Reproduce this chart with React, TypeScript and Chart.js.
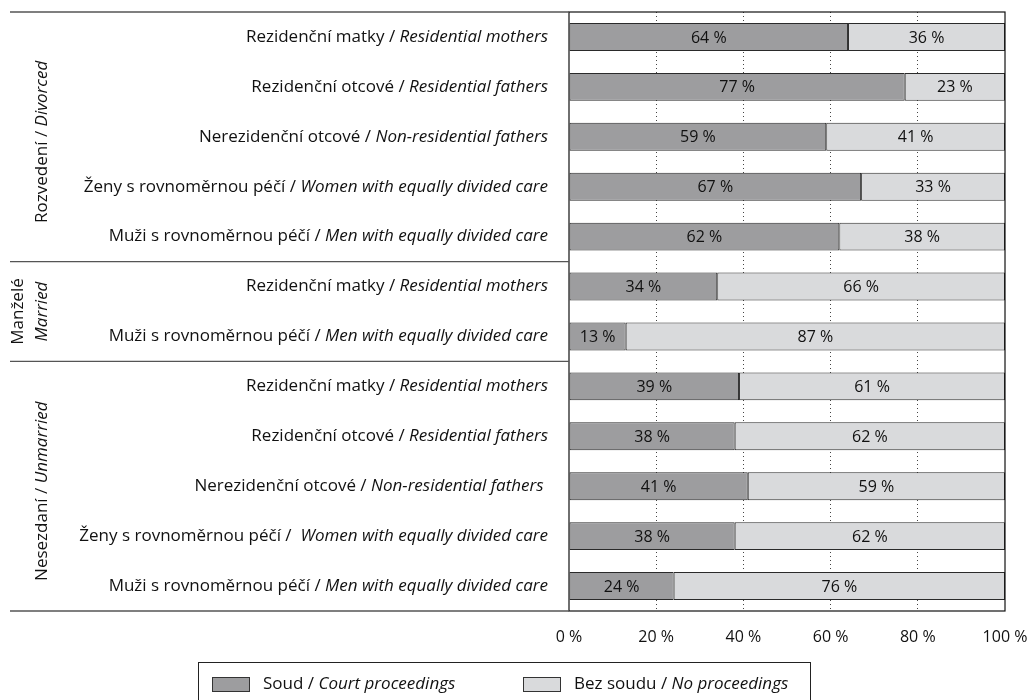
import React, { useEffect, useRef } from "react";
import { Chart, registerables } from "chart.js";

Chart.register(...registerables);

const categoriesCz = [
  "Rezidenční matky / ",
  "Rezidenční otcové / ",
  "Nerezidenční otcové / ",
  "Ženy s rovnoměrnou péčí / ",
  "Muži s rovnoměrnou péčí / ",
  "Rezidenční matky / ",
  "Muži s rovnoměrnou péčí / ",
  "Rezidenční matky / ",
  "Rezidenční otcové / ",
  "Nerezidenční otcové / ",
  "Ženy s rovnoměrnou péčí /  ",
  "Muži s rovnoměrnou péčí / ",
];
const categoriesEn = [
  "Residential mothers",
  "Residential fathers",
  "Non-residential fathers",
  "Women with equally divided care",
  "Men with equally divided care",
  "Residential mothers",
  "Men with equally divided care",
  "Residential mothers",
  "Residential fathers",
  "Non-residential fathers ",
  "Women with equally divided care",
  "Men with equally divided care",
];
const courtValues = [64, 77, 59, 67, 62, 34, 13, 39, 38, 41, 38, 24];
const noCourtValues = [36, 23, 41, 33, 38, 66, 87, 61, 62, 59, 62, 76];
const xTickValues = [0, 20, 40, 60, 80, 100];
const groupCz = ["Rozvedení / ", "Manželé", "Nesezdaní / "];
const groupEn = ["Divorced", "Married", "Unmarried"];
const groupSizes = [5, 2, 5];
const seriesCz = ["Soud / ", "Bez soudu / "];
const seriesEn = ["Court proceedings", "No proceedings"];

const FONT = "'Open Sans', 'Noto Sans', sans-serif";
const DARK = "#9d9d9f";
const LIGHT = "#d9dadc";
const TEXT = "#111";
const LABEL_SIZE = 17;
const VALUE_SIZE = 16;

function mixedWidth(ctx: CanvasRenderingContext2D, a: string, b: string, size: number) {
  ctx.font = `${size}px ${FONT}`;
  const wa = ctx.measureText(a).width;
  ctx.font = `italic ${size}px ${FONT}`;
  const wb = ctx.measureText(b).width;
  return [wa, wb];
}

function drawMixed(ctx: CanvasRenderingContext2D, a: string, b: string, x: number, y: number, size: number) {
  ctx.textAlign = "left";
  ctx.textBaseline = "middle";
  const [wa] = mixedWidth(ctx, a, b, size);
  ctx.font = `${size}px ${FONT}`;
  ctx.fillText(a, x, y);
  ctx.font = `italic ${size}px ${FONT}`;
  ctx.fillText(b, x + wa, y);
}

const customPlugin = {
  id: "customDraw",
  afterDatasetsDraw(chart: any) {
    const ctx = chart.ctx as CanvasRenderingContext2D;
    ctx.save();
    ctx.fillStyle = TEXT;
    ctx.font = `${VALUE_SIZE}px ${FONT}`;
    ctx.textAlign = "center";
    ctx.textBaseline = "middle";
    chart.data.datasets.forEach((ds: any, di: number) => {
      const meta = chart.getDatasetMeta(di);
      meta.data.forEach((el: any, i: number) => {
        const cx = (el.x + el.base) / 2;
        ctx.fillText(`${ds.data[i]} %`, cx, el.y + 1);
      });
    });
    ctx.restore();
  },
  afterDraw(chart: any) {
    const ctx = chart.ctx as CanvasRenderingContext2D;
    const area = chart.chartArea;
    const yScale = chart.scales.y;
    ctx.save();

    // plot border
    ctx.strokeStyle = "#111";
    ctx.lineWidth = 1.2;
    ctx.strokeRect(area.left, area.top, area.right - area.left, area.bottom - area.top);

    // category labels
    ctx.fillStyle = TEXT;
    const labelRight = area.left - 21;
    categoriesCz.forEach((cz, i) => {
      const y = yScale.getPixelForValue(i);
      const [wa, wb] = mixedWidth(ctx, cz, categoriesEn[i], LABEL_SIZE);
      drawMixed(ctx, cz, categoriesEn[i], labelRight - wa - wb, y, LABEL_SIZE);
    });

    // group separator lines
    ctx.strokeStyle = "#555";
    ctx.lineWidth = 1.3;
    const bounds: number[] = [area.top];
    let idx = 0;
    groupSizes.forEach((n) => {
      idx += n;
      if (idx >= categoriesCz.length) bounds.push(area.bottom);
      else bounds.push((yScale.getPixelForValue(idx - 1) + yScale.getPixelForValue(idx)) / 2);
    });
    bounds.forEach((b) => {
      ctx.beginPath();
      ctx.moveTo(10, b);
      ctx.lineTo(area.left, b);
      ctx.stroke();
    });

    // group labels (rotated)
    ctx.fillStyle = TEXT;
    groupCz.forEach((cz, g) => {
      const cy = (bounds[g] + bounds[g + 1]) / 2;
      ctx.save();
      if (g === 1) {
        ctx.translate(18, cy);
        ctx.rotate(-Math.PI / 2);
        ctx.font = `${LABEL_SIZE}px ${FONT}`;
        ctx.textAlign = "center";
        ctx.textBaseline = "middle";
        ctx.fillText(cz, 0, 0);
        ctx.restore();
        ctx.save();
        ctx.translate(42, cy);
        ctx.rotate(-Math.PI / 2);
        ctx.font = `italic ${LABEL_SIZE}px ${FONT}`;
        ctx.textAlign = "center";
        ctx.textBaseline = "middle";
        ctx.fillText(groupEn[g], 0, 0);
      } else {
        ctx.translate(42, cy + 5);
        ctx.rotate(-Math.PI / 2);
        const [wa, wb] = mixedWidth(ctx, cz, groupEn[g], LABEL_SIZE);
        drawMixed(ctx, cz, groupEn[g], -(wa + wb) / 2, 0, LABEL_SIZE);
      }
      ctx.restore();
    });

    // legend
    const lx = 198, ly = 662, lw = 612, lh = 44;
    ctx.strokeStyle = "#222";
    ctx.lineWidth = 1;
    ctx.strokeRect(lx + 0.5, ly + 0.5, lw, lh);
    const legendY = 684;
    const swatchX = [212, 523];
    const colors = [DARK, LIGHT];
    seriesCz.forEach((cz, s) => {
      ctx.fillStyle = colors[s];
      ctx.fillRect(swatchX[s], legendY - 7, 37, 14);
      ctx.strokeStyle = "#333";
      ctx.strokeRect(swatchX[s] + 0.5, legendY - 7 + 0.5, 37, 14);
      ctx.fillStyle = TEXT;
      drawMixed(ctx, cz, seriesEn[s], swatchX[s] + 51, legendY, LABEL_SIZE);
    });

    ctx.restore();
  },
};

export default function App() {
  const canvasRef = useRef<HTMLCanvasElement | null>(null);

  useEffect(() => {
    document.body.style.margin = "0";
    if (!canvasRef.current) return;
    const chart = new Chart(canvasRef.current, {
      type: "bar",
      data: {
        labels: categoriesCz.map((c, i) => c + categoriesEn[i]),
        datasets: [
          {
            label: seriesCz[0] + seriesEn[0],
            data: courtValues,
            backgroundColor: DARK,
            borderColor: "#2a2a2a",
            borderWidth: 1,
            borderSkipped: false,
            barPercentage: 0.56,
            categoryPercentage: 1,
          },
          {
            label: seriesCz[1] + seriesEn[1],
            data: noCourtValues,
            backgroundColor: LIGHT,
            borderColor: "#2a2a2a",
            borderWidth: 1,
            borderSkipped: false,
            barPercentage: 0.56,
            categoryPercentage: 1,
          },
        ],
      },
      options: {
        indexAxis: "y",
        animation: false,
        responsive: false,
        maintainAspectRatio: false,
        layout: { padding: { left: 569, right: 25, top: 12, bottom: 49 } },
        plugins: {
          legend: { display: false },
          tooltip: { enabled: false },
        },
        scales: {
          x: {
            stacked: true,
            min: 0,
            max: 100,
            afterBuildTicks: (scale: any) => {
              scale.ticks = xTickValues.map((v) => ({ value: v }));
            },
            afterFit: (scale: any) => {
              scale.height = 40;
              scale.paddingLeft = 0;
              scale.paddingRight = 0;
            },
            ticks: {
              font: { family: FONT, size: 16 },
              color: TEXT,
              padding: 17,
              callback: (v: any) => `${v} %`,
            },
            grid: {
              drawTicks: false,
              color: (c: any) => (c.tick && (c.tick.value === 0 || c.tick.value === 100) ? "rgba(0,0,0,0)" : "#444"),
              lineWidth: 1,
            },
            border: { display: false, dash: [1, 3] },
          },
          y: {
            stacked: true,
            display: false,
            grid: { display: false },
          },
        },
      },
      plugins: [customPlugin],
    } as any);
    return () => chart.destroy();
  }, []);

  return (
    <div style={{ width: 1030, height: 700 }}>
      <canvas ref={canvasRef} width={1030} height={700} style={{ display: "block" }} />
    </div>
  );
}
